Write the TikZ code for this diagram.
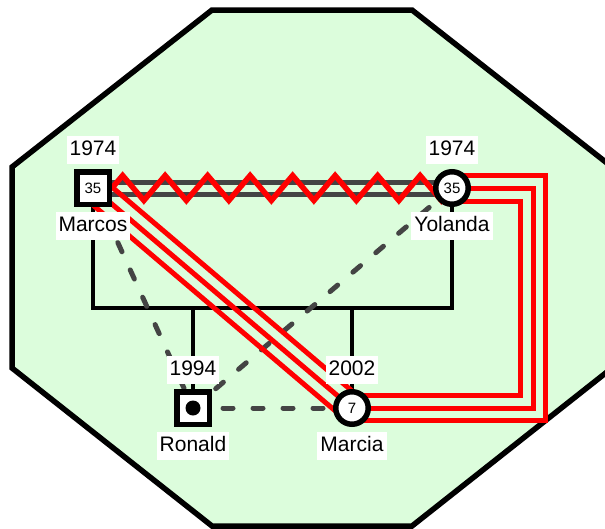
\documentclass[tikz,border=0pt]{standalone}
\usepackage{fontspec}
\setmainfont{Liberation Sans}
\usetikzlibrary{positioning, calc, decorations.pathmorphing}
\definecolor{bggreen}{HTML}{DCFDDC}
\definecolor{relgray}{HTML}{444444}
\pgfdeclarelayer{back}
\pgfdeclarelayer{links}
\pgfsetlayers{back,links,main}

\begin{document}
\begin{tikzpicture}[x=1pt, y=-1pt,
    every node/.style={font=\fontsize{21}{25}\selectfont},
    male/.style={rectangle, draw, line width=5.5pt, fill=white, minimum size=32.5pt, inner sep=0pt, font=\fontsize{15}{18}\selectfont},
    female/.style={circle, draw, line width=5.5pt, fill=white, minimum size=32.5pt, inner sep=0pt, font=\fontsize{15}{18}\selectfont},
    tag/.style={fill=white, inner xsep=3pt, inner ysep=4.5pt, text height=15pt, text depth=4pt},
    famline/.style={line width=4.5pt},
    marriage/.style={relgray, line width=5pt},
    distant/.style={relgray, line width=5pt, dash pattern=on 10pt off 20pt, line cap=round},
    fused/.style={red, line width=5pt},
    hostile/.style={red, line width=5.5pt, decorate, decoration={zigzag, segment length=42.5pt, amplitude=12.5pt}}]
    \useasboundingbox (0,0) rectangle (605,528);
    \begin{pgfonlayer}{back}
        \fill[white] (0,0) rectangle (605,528);
        \filldraw[fill=bggreen, line width=5.5pt] (212,10) -- (412,10) -- (612,167) -- (612,368)
            -- (412,526) -- (212,526) -- (12,368) -- (12,167) -- cycle;
    \end{pgfonlayer}

    % people
    \node[male] (marcos) at (93,188) {35};
    \node[female] (yolanda) at (452,188) {35};
    \node[male] (ronald) at (193,408) {};
    \fill (ronald) circle (7.5pt);
    \node[female] (marcia) at (352,408) {7};

    % years and names
    \node[tag, above=5pt of marcos] (marcos-year) {1974};
    \node[tag, below=5pt of marcos] (marcos-name) {Marcos};
    \node[tag, above=5pt of yolanda] (yolanda-year) {1974};
    \node[tag, below=5pt of yolanda] (yolanda-name) {Yolanda};
    \node[tag, above=5pt of ronald] (ronald-year) {1994};
    \node[tag, below=5pt of ronald] (ronald-name) {Ronald};
    \node[tag, above=5pt of marcia] (marcia-year) {2002};
    \node[tag, below=5pt of marcia] (marcia-name) {Marcia};

    \begin{pgfonlayer}{links}
        % family lines
        \coordinate (sib) at (272,308);
        \draw[famline] (marcos.center) |- (sib) -| (yolanda.center);
        \draw[famline] (ronald.center) -- (ronald |- sib);
        \draw[famline] (marcia.center) -- (marcia |- sib);
        % distant
        \draw[distant] (marcos.center) -- (ronald.center);
        \draw[distant] (yolanda.center) -- (ronald.center);
        \draw[distant] (ronald.center) -- (marcia.center);
        % marriage and hostility
        \draw[marriage] ([yshift=6pt]marcos.center) -- ([yshift=6pt]yolanda.center);
        \draw[marriage] ([yshift=-6pt]marcos.center) -- ([yshift=-6pt]yolanda.center);
        \draw[hostile] (marcos.east) -- (yolanda.center);
        % fused
        \draw[fused] (marcos.center) -- (marcia.center);
        \draw[fused] ($(marcos.center)!13pt!90:(marcia.center)$) -- ($(marcia.center)!13pt!-90:(marcos.center)$);
        \draw[fused] ($(marcos.center)!13pt!-90:(marcia.center)$) -- ($(marcia.center)!13pt!90:(marcos.center)$);
        \draw[fused] ([yshift=13pt]yolanda.center) -- ++(93pt,0pt) |- ([yshift=-12pt]marcia.center);
        \draw[fused] (yolanda.center) -- ++(81pt,0pt) |- (marcia.center);
        \draw[fused] ([yshift=-13pt]yolanda.center) -- ++(68pt,0pt) |- ([yshift=13pt]marcia.center);
    \end{pgfonlayer}
\end{tikzpicture}
\end{document}
